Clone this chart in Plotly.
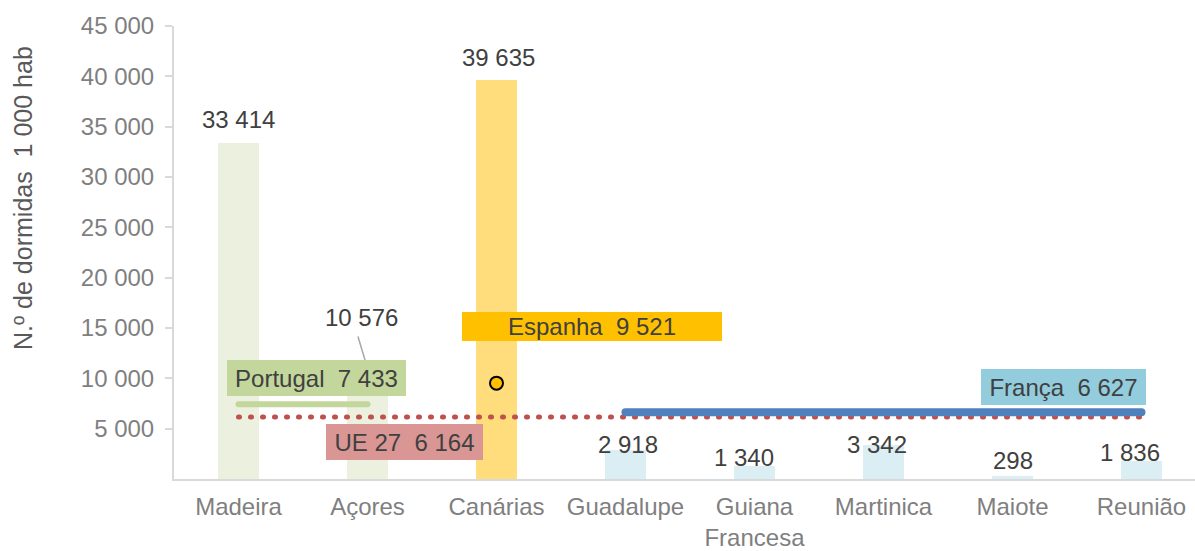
import plotly.graph_objects as go

categories = ["Madeira", "Açores", "Canárias", "Guadalupe", "Guiana Francesa",
              "Martinica", "Maiote", "Reunião"]
tick_labels = ["Madeira", "Açores", "Canárias", "Guadalupe", "Guiana<br>Francesa",
               "Martinica", "Maiote", "Reunião"]
values = [33414, 10576, 39635, 2918, 1340, 3342, 298, 1836]
bar_colors = ["#EBF1DE", "#EBF1DE", "#FFDC7C", "#DAEEF3", "#DAEEF3",
              "#DAEEF3", "#DAEEF3", "#DAEEF3"]

portugal_regions = ["Madeira", "Açores"]
portugal_value = 7433
spain_regions = ["Canárias"]
spain_value = 9521
france_regions = ["Guadalupe", "Reunião"]
france_value = 6627
eu_regions = ["Madeira", "Reunião"]
eu_value = 6164

y_ticks = [5000, 10000, 15000, 20000, 25000, 30000, 35000, 40000, 45000]


def fmt(v):
    return f"{v:,}".replace(",", " ")


# label offsets (px) for value labels: (xshift, yshift)
label_offsets = [(0, 23), (-6, 55), (2, 23), (3, 5), (-10, 8), (-6, 1), (1, 16), (-11, 8)]

TXT = "#404040"
AX = "#D9D9D9"
TICK = "#7F7F7F"
FONT = "Liberation Sans, Arial, sans-serif"

fig = go.Figure()

fig.add_trace(go.Bar(
    x=categories, y=values, marker=dict(color=bar_colors, line=dict(width=0)),
    width=0.32, hoverinfo="skip", showlegend=False,
))

# EU 27 dotted line
fig.add_trace(go.Scatter(
    x=eu_regions, y=[eu_value] * len(eu_regions), mode="lines",
    line=dict(color="#C0504D", width=5, dash="1px,11px"),
    hoverinfo="skip", showlegend=False,
))
# Portugal line
fig.add_trace(go.Scatter(
    x=portugal_regions, y=[portugal_value] * len(portugal_regions), mode="lines",
    line=dict(color="#C3D69B", width=6),
    hoverinfo="skip", showlegend=False,
))
# France line
fig.add_trace(go.Scatter(
    x=france_regions, y=[france_value] * len(france_regions), mode="lines",
    line=dict(color="#4F81BD", width=8),
    hoverinfo="skip", showlegend=False,
))
# Spain marker
fig.add_trace(go.Scatter(
    x=spain_regions, y=[spain_value], mode="markers",
    marker=dict(size=13, color="#FFC000", line=dict(color="#000000", width=2)),
    hoverinfo="skip", showlegend=False,
))

annotations = []
for i, (c, v) in enumerate(zip(categories, values)):
    dx, dy = label_offsets[i]
    annotations.append(dict(
        x=i, y=v, xref="x", yref="y", text=fmt(v), showarrow=False,
        xanchor="center", yanchor="middle", xshift=dx, yshift=dy,
        font=dict(size=24, color=TXT, family=FONT),
    ))

# leader line from Açores label
shapes = [dict(type="line", xref="x", yref="y", x0=0.926, y0=14154, x1=0.981, y1=11811,
               line=dict(color="#A6A6A6", width=1.5), layer="above")]

boxes = [
    (f"Portugal  {fmt(portugal_value)}", 0.605, 10054, 179, 36, "#C3D69B"),
    (f"UE 27  {fmt(eu_value)}", 1.287, 3709, 157, 36, "#D99694"),
    (f"Espanha  {fmt(spain_value)}", 2.740, 15179, 260, 29, "#FFC000"),
    (f"França  {fmt(france_value)}", 6.395, 9176, 165, 36, "#93CDDD"),
]
for text, bx, by, w, h, col in boxes:
    annotations.append(dict(
        x=bx, y=by, xref="x", yref="y", text=text, showarrow=False,
        xanchor="center", yanchor="middle", width=w, height=h,
        bgcolor=col, borderpad=0, borderwidth=0, align="center", valign="middle",
        font=dict(size=24, color=TXT, family=FONT),
    ))

# y-axis title
annotations.append(dict(
    x=(23 - 174) / 1021, y=(487 - 201) / 461, xref="paper", yref="paper",
    text="N.º de dormidas  1 000 hab", textangle=-90, showarrow=False,
    xanchor="center", yanchor="middle",
    font=dict(size=25, color="#595959", family=FONT),
))

fig.update_layout(
    width=1195, height=551, autosize=False,
    margin=dict(l=174, r=0, t=26, b=64, pad=0),
    paper_bgcolor="white", plot_bgcolor="white",
    font=dict(family=FONT, size=24, color=TICK),
    annotations=annotations, shapes=shapes, showlegend=False,
    bargap=0,
)
fig.update_xaxes(
    type="category", categoryorder="array", categoryarray=categories,
    range=[-0.5, 7.415], tickvals=categories, ticktext=tick_labels,
    showline=True, linecolor=AX, linewidth=2, ticks="", showgrid=False,
    zeroline=False, tickfont=dict(size=24, color=TICK, family=FONT),
    ticklabelstandoff=5,
)
fig.update_yaxes(
    range=[0, 45000], tickvals=y_ticks, ticktext=[fmt(t) for t in y_ticks],
    showline=True, linecolor=AX, linewidth=2, ticks="outside", ticklen=7,
    tickcolor=AX, tickwidth=1.5, showgrid=False, zeroline=False,
    tickfont=dict(size=24, color=TICK, family=FONT), ticklabelstandoff=6,
)

post = """
document.documentElement.style.margin = '0';
document.documentElement.style.overflow = 'hidden';
document.body.style.margin = '0';
document.body.style.padding = '0';
document.body.style.overflow = 'hidden';
var gd = document.getElementById('{plot_id}');
gd.querySelectorAll('.scatterlayer path.js-line').forEach(function(p){
  p.style.strokeLinecap = 'round';
});
"""

fig.write_html("out.html", post_script=post, config={"displayModeBar": False})
